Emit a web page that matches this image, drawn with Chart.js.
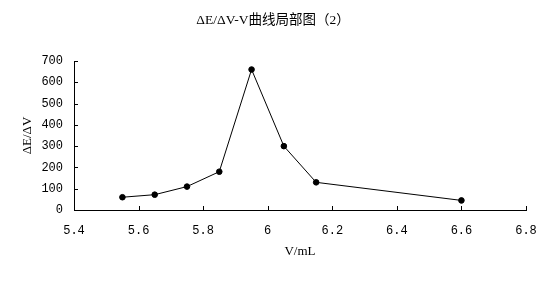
<!DOCTYPE html>
<html>
<head>
<meta charset="utf-8">
<title>ΔE/ΔV-V曲线局部图（2）</title>
<script src="https://cdn.jsdelivr.net/npm/chart.js@4.4.1/dist/chart.umd.min.js"></script>
<style>
  html, body { margin: 0; padding: 0; background: #fff; }
</style>
</head>
<body>
<canvas id="grafica" width="553" height="281"></canvas>
<script>
// datos
var volumen = [5.55, 5.65, 5.75, 5.85, 5.95, 6.05, 6.15, 6.6];
var deltaEV = [60, 72, 110, 180, 660, 300, 130, 45];
var ticksX = [5.4, 5.6, 5.8, 6, 6.2, 6.4, 6.6, 6.8];
var ticksY = [0, 100, 200, 300, 400, 500, 600, 700];

var puntos = volumen.map(function (v, i) { return { x: v, y: deltaEV[i] }; });

// marcas de los ejes hacia dentro
var marcasInternas = {
  id: 'marcasInternas',
  afterDraw: function (chart) {
    var ctx = chart.ctx;
    var sx = chart.scales.x, sy = chart.scales.y;
    ctx.save();
    ctx.strokeStyle = '#000';
    ctx.lineWidth = 1;
    ctx.beginPath();
    ticksX.forEach(function (t) {
      var px = Math.round(sx.getPixelForValue(t)) + 0.5;
      ctx.moveTo(px, sy.bottom);
      ctx.lineTo(px, sy.bottom - 4);
    });
    ticksY.forEach(function (t) {
      var py = Math.round(sy.getPixelForValue(t)) + 0.5;
      ctx.moveTo(sx.left, py);
      ctx.lineTo(sx.left + 4, py);
    });
    ctx.stroke();
    ctx.restore();
  }
};

var contenedor = document.getElementById('grafica');
var grafica = new Chart(contenedor, {
  type: 'scatter',
  data: {
    datasets: [{
      label: 'ΔE/ΔV',
      data: puntos,
      showLine: true,
      borderColor: '#000',
      backgroundColor: '#000',
      borderWidth: 1,
      pointRadius: 2.8,
      pointHoverRadius: 2.8,
      pointStyle: 'circle'
    }]
  },
  options: {
    responsive: false,
    animation: false,
    layout: { padding: { left: 20, right: 27, top: 0, bottom: 0 } },
    plugins: {
      legend: { display: false },
      tooltip: { enabled: false },
      title: {
        display: true,
        text: 'ΔE/ΔV-V曲线局部图（2）',
        color: '#000',
        font: { family: '"Liberation Serif", "Noto Sans CJK SC", serif', size: 13.5, weight: 'normal', lineHeight: 1.2 },
        padding: { top: 12, bottom: 32.8 }
      }
    },
    scales: {
      x: {
        type: 'linear',
        min: 5.4,
        max: 6.8,
        afterFit: function (s) { s.height = 71; },
        afterBuildTicks: function (s) { s.ticks = ticksX.map(function (v) { return { value: v }; }); },
        grid: { display: false, drawTicks: false },
        border: { display: true, color: '#000', width: 1 },
        ticks: {
          padding: 14,
          color: '#000',
          maxRotation: 0,
          font: { family: '"Liberation Mono", monospace', size: 12 },
          callback: function (v) { return String(Number(v.toFixed(1))); }
        },
        title: {
          display: true,
          text: 'V/mL',
          color: '#000',
          font: { family: '"Liberation Serif", serif', size: 13 },
          padding: { top: 0, bottom: 22 }
        }
      },
      y: {
        type: 'linear',
        min: 0,
        max: 700,
        afterFit: function (s) { s.width = 54; },
        afterBuildTicks: function (s) { s.ticks = ticksY.map(function (v) { return { value: v }; }); },
        grid: { display: false, drawTicks: false },
        border: { display: true, color: '#000', width: 1 },
        ticks: {
          padding: 11,
          color: '#000',
          font: { family: '"Liberation Mono", monospace', size: 12 }
        },
        title: {
          display: true,
          text: 'ΔE/ΔV',
          color: '#000',
          font: { family: '"Liberation Serif", serif', size: 13 },
          padding: 0
        }
      }
    }
  },
  plugins: [marcasInternas]
});
</script>
</body>
</html>
